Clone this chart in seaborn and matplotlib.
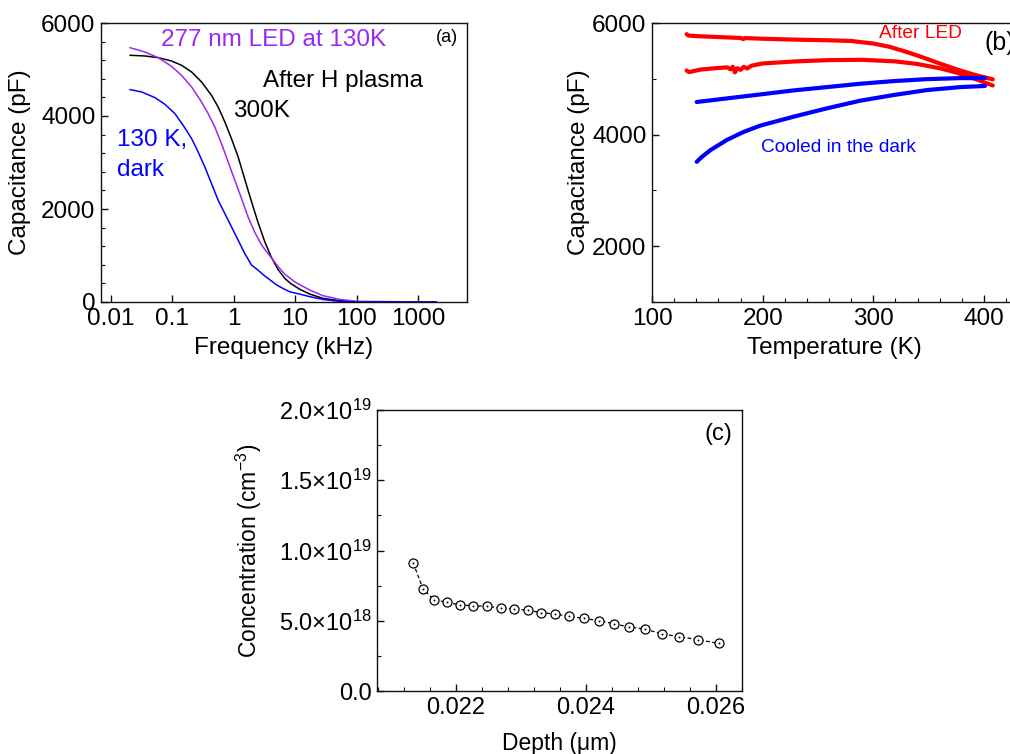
import numpy as np
import pandas as pd
import matplotlib
matplotlib.use("Agg")
import matplotlib.pyplot as plt
import seaborn as sns
from matplotlib.ticker import FixedLocator, MultipleLocator, LogLocator, FuncFormatter, NullFormatter, FixedFormatter

# ---------------- Panel (a): C-f curves ----------------
freq_300K = [0.0204, 0.0357, 0.0589, 0.097, 0.141, 0.206, 0.299, 0.434, 0.557, 0.716, 0.918, 1.18, 1.42,
             1.71, 2.07, 2.49, 3.20, 4.11, 5.27, 6.77, 8.5, 11.9, 17.3, 28.4, 53, 99, 2000]
cap_300K = [5306, 5291, 5255, 5184, 5091, 4948, 4733, 4446, 4196, 3874, 3515, 3122, 2764,
            2406, 2048, 1710, 1300, 960, 700, 510, 395, 275, 170, 79, 29, 5, 0]

freq_led = [0.0204, 0.0357, 0.0589, 0.097, 0.141, 0.206, 0.299, 0.383, 0.492, 0.632, 0.811, 1.04, 1.34,
            1.71, 2.20, 2.83, 3.62, 4.2, 5.3, 6.77, 9.84, 11.9, 17.3, 28.4, 53, 99, 2000]
cap_led = [5470, 5377, 5255, 5069, 4876, 4625, 4303, 4053, 3766, 3408, 3014, 2621, 2227,
           1833, 1500, 1230, 1040, 935, 760, 600, 435, 372, 258, 136, 57, 14, 0]

freq_dark = [0.0204, 0.0316, 0.052, 0.0756, 0.110, 0.150, 0.206, 0.263, 0.338, 0.434, 0.557, 0.716, 0.918,
             1.18, 1.51, 1.95, 2.49, 3.0, 3.86, 4.96, 6.36, 8.16, 11.9, 17.3, 28.4, 53, 99, 2000]
cap_dark = [4568, 4518, 4396, 4253, 4053, 3802, 3515, 3229, 2907, 2549, 2191, 1905, 1618,
            1332, 1045, 795, 687, 590, 480, 370, 290, 220, 170, 115, 55, 12, 0, 0]

freq_ticks = [0.01, 0.1, 1, 10, 100, 1000]
freq_tick_labels = ["0.01", "0.1", "1", "10", "100", "1000"]

# ---------------- Panel (b): C-T curves ----------------
T_led_top = [131.3, 133.0, 140.0, 160.0, 180.0, 182.5, 184.0, 200.0, 230.0, 260.0, 280.0, 300.0, 315.0,
             330.0, 345.0, 360.0, 375.0, 390.0, 408.0]
C_led_top = [5800, 5775, 5765, 5748, 5732, 5712, 5730, 5718, 5702, 5690, 5678, 5632, 5572,
             5482, 5382, 5274, 5172, 5080, 4990]

T_led_bot = [131.3, 133.5, 143.7, 158.5, 168.0, 171.0, 173.0, 175.0, 177.0, 180.0, 183.0, 186.0, 190.0,
             200.0, 230.0, 260.0, 290.0, 320.0, 340.0, 360.0, 375.0, 390.0, 408.0]
C_led_bot = [5148, 5120, 5165, 5192, 5205, 5170, 5215, 5115, 5190, 5160, 5215, 5185, 5235,
             5275, 5312, 5335, 5340, 5312, 5265, 5190, 5112, 5012, 4880]

T_dark_top = [140.4, 167.8, 197.9, 228.0, 258.0, 288.0, 318.0, 348.5, 378.6, 401.0]
C_dark_top = [4584, 4649, 4720, 4792, 4851, 4911, 4958, 4994, 5012, 5012]

T_dark_bot = [140.4, 145.0, 152.7, 160.0, 167.8, 182.8, 197.9, 228.0, 258.0, 288.0, 318.0, 348.5, 378.6, 401.0]
C_dark_bot = [3512, 3600, 3720, 3810, 3905, 4048, 4161, 4321, 4470, 4607, 4708, 4798, 4851, 4872]

# ---------------- Panel (c): concentration profile ----------------
depth_um = [0.021347, 0.021497, 0.021668, 0.021865, 0.022067, 0.022269, 0.022477, 0.022689,
            0.022896, 0.023109, 0.023311, 0.023528, 0.023741, 0.023964, 0.024197, 0.024425,
            0.024658, 0.024907, 0.025171, 0.025435, 0.025725, 0.026041]
conc_cm3 = [9.11e18, 7.26e18, 6.50e18, 6.31e18, 6.12e18, 6.07e18, 6.03e18, 5.91e18,
            5.84e18, 5.74e18, 5.58e18, 5.48e18, 5.31e18, 5.17e18, 5.01e18, 4.79e18,
            4.56e18, 4.41e18, 4.06e18, 3.87e18, 3.65e18, 3.39e18]

PURPLE = "#9B28F2"
BLUE = "#0000FF"
RED = "#FF0000"

sns.set_theme(style="ticks")
plt.rcParams["font.family"] = ["Liberation Sans", "DejaVu Sans"]
plt.rcParams["mathtext.fontset"] = "custom"
plt.rcParams["mathtext.rm"] = "Liberation Sans"
plt.rcParams["mathtext.it"] = "Liberation Sans:italic"
plt.rcParams["axes.linewidth"] = 1.0
plt.rcParams["axes.edgecolor"] = "#111111"
plt.rcParams["text.color"] = "black"
plt.rcParams["axes.labelcolor"] = "black"
plt.rcParams["xtick.color"] = "black"
plt.rcParams["ytick.color"] = "black"

W, H = 1010, 754
fig = plt.figure(figsize=(W / 100, H / 100), dpi=100)


def ax_rect(l, t, r, b):
    return [l / W, 1 - b / H, (r - l) / W, (b - t) / H]


axA = fig.add_axes(ax_rect(101, 23, 467, 302))
axB = fig.add_axes(ax_rect(652, 23, 1016, 302))
axC = fig.add_axes(ax_rect(377, 410, 742, 691))


def style_ticks(ax, size):
    ax.tick_params(which="both", direction="in", top=False, right=False, color="#111111")
    ax.tick_params(which="major", length=5, width=1.0, labelsize=size, pad=4)
    ax.tick_params(which="minor", length=3, width=0.8)


# ---- (a)
dfA = pd.concat([
    pd.DataFrame({"f": freq_300K, "C": cap_300K, "s": "300K"}),
    pd.DataFrame({"f": freq_led, "C": cap_led, "s": "LED"}),
    pd.DataFrame({"f": freq_dark, "C": cap_dark, "s": "dark"}),
])
sns.lineplot(data=dfA, x="f", y="C", hue="s", palette={"300K": "black", "LED": PURPLE, "dark": BLUE},
             sort=False, estimator=None, legend=False, linewidth=1.1, ax=axA)
axA.set_xscale("log")
axA.set_xlim(0.0069, 6300)
axA.set_ylim(0, 6000)
axA.xaxis.set_major_locator(FixedLocator(freq_ticks))
axA.xaxis.set_major_formatter(FixedFormatter(freq_tick_labels))
axA.xaxis.set_minor_locator(LogLocator(base=10, subs=np.arange(2, 10)))
axA.xaxis.set_minor_formatter(NullFormatter())
axA.yaxis.set_major_locator(MultipleLocator(2000))
axA.yaxis.set_minor_locator(MultipleLocator(400))
style_ticks(axA, 17.5)
axA.set_xlabel("Frequency (kHz)", fontsize=17.5)
axA.set_ylabel("Capacitance (pF)", fontsize=17.5)
axA.xaxis.set_label_coords(0.5, -0.125)
axA.yaxis.set_label_coords(-0.19, 0.5)

fig.text(161 / W, 1 - 40 / H, "277 nm LED at 130K", color=PURPLE, fontsize=17.5, va="center", ha="left")
fig.text(436 / W, 1 - 38 / H, "(a)", color="black", fontsize=13, va="center", ha="left")
fig.text(263 / W, 1 - 81 / H, "After H plasma", color="black", fontsize=17.5, va="center", ha="left")
fig.text(233 / W, 1 - 111 / H, "300K", color="black", fontsize=17.5, va="center", ha="left")
fig.text(117 / W, 1 - 140 / H, "130 K,", color=BLUE, fontsize=17.5, va="center", ha="left")
fig.text(117 / W, 1 - 170 / H, "dark", color=BLUE, fontsize=17.5, va="center", ha="left")

# ---- (b)
dfB = pd.concat([
    pd.DataFrame({"T": T_led_top, "C": C_led_top, "s": "led_top"}),
    pd.DataFrame({"T": T_led_bot, "C": C_led_bot, "s": "led_bot"}),
    pd.DataFrame({"T": T_dark_top, "C": C_dark_top, "s": "dark_top"}),
    pd.DataFrame({"T": T_dark_bot, "C": C_dark_bot, "s": "dark_bot"}),
])
sns.lineplot(data=dfB, x="T", y="C", hue="s",
             palette={"led_top": RED, "led_bot": RED, "dark_top": BLUE, "dark_bot": BLUE},
             sort=False, estimator=None, legend=False, linewidth=3.0, ax=axB)
axB.set_xlim(100, 429)
axB.set_ylim(1000, 6000)
axB.xaxis.set_major_locator(MultipleLocator(100))
axB.xaxis.set_minor_locator(MultipleLocator(20))
axB.yaxis.set_major_locator(FixedLocator([2000, 4000, 6000]))
axB.yaxis.set_minor_locator(FixedLocator([1000, 3000, 5000]))
style_ticks(axB, 17.5)
axB.set_xlabel("Temperature (K)", fontsize=17.5)
axB.set_ylabel("Capacitance (pF)", fontsize=17.5)
axB.xaxis.set_label_coords(0.5, -0.125)
axB.yaxis.set_label_coords(-0.17, 0.5)

fig.text(879 / W, 1 - 34 / H, "After LED", color=RED, fontsize=13.8, va="center", ha="left")
fig.text(761 / W, 1 - 148 / H, "Cooled in the dark", color=BLUE, fontsize=13.8, va="center", ha="left")
fig.text(984 / W, 1 - 43 / H, "(b)", color="black", fontsize=18, va="center", ha="left")

# ---- (c)
dfC = pd.DataFrame({"depth": depth_um, "conc": conc_cm3})
sns.lineplot(data=dfC, x="depth", y="conc", sort=False, estimator=None, color="black",
             linewidth=0.9, linestyle=(0, (3, 2)), marker="o", markersize=6.5,
             markerfacecolor="white", markeredgecolor="black", markeredgewidth=0.9, ax=axC)
sns.scatterplot(data=dfC, x="depth", y="conc", color="black", s=2, linewidth=0, ax=axC, zorder=5)
axC.set_xlim(0.02079, 0.0264)
axC.set_ylim(0, 2.0e19)
axC.xaxis.set_major_locator(FixedLocator([0.022, 0.024, 0.026]))
axC.xaxis.set_major_formatter(FuncFormatter(lambda v, p: f"{v:.3f}"))
axC.xaxis.set_minor_locator(MultipleLocator(0.0004))
axC.yaxis.set_major_locator(MultipleLocator(5e18))
axC.yaxis.set_minor_locator(MultipleLocator(2.5e18))


def sci_fmt(v, p):
    if v == 0:
        return "0.0"
    e = int(np.floor(np.log10(abs(v))))
    m = v / 10 ** e
    return f"{m:.1f}×10$^{{{e}}}$"


axC.yaxis.set_major_formatter(FuncFormatter(sci_fmt))
style_ticks(axC, 17)
axC.set_xlabel("Depth (μm)", fontsize=16.5)
axC.set_ylabel("Concentration (cm$^{-3}$)", fontsize=16.5)
axC.xaxis.set_label_coords(0.5, -0.145)
axC.yaxis.set_label_coords(-0.31, 0.5)
fig.text(704 / W, 1 - 434 / H, "(c)", color="black", fontsize=17, va="center", ha="left")

fig.savefig("out.png", dpi=100)
